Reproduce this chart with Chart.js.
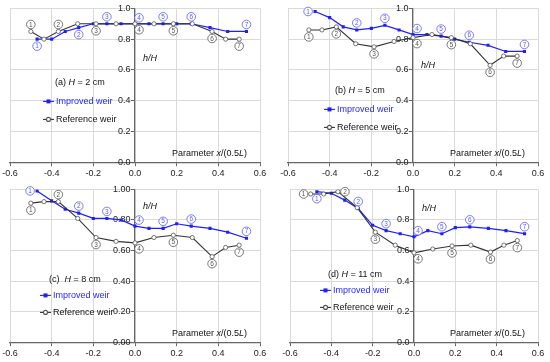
<!DOCTYPE html>
<html>
<head>
<meta charset="utf-8">
<script src="https://cdn.jsdelivr.net/npm/chart.js@4/dist/chart.umd.min.js"></script>
<style>
body { margin: 0; background: #fff; width: 550px; height: 362px; position: relative; overflow: hidden; }
.panel { position: absolute; width: 275px; height: 181px; }
</style>
</head>
<body>
<div class="panel" style="left:0;top:0"><canvas id="ChartA" width="275" height="181"></canvas></div>
<div class="panel" style="left:275px;top:0"><canvas id="ChartB" width="275" height="181"></canvas></div>
<div class="panel" style="left:0;top:181px"><canvas id="ChartC" width="275" height="181"></canvas></div>
<div class="panel" style="left:275px;top:181px"><canvas id="ChartD" width="275" height="181"></canvas></div>
<script>
// positions x/(0.5L) of the gauges
var improvedX = [-0.47, -0.40, -0.335, -0.27, -0.20, -0.135, -0.067, 0, 0.067, 0.135, 0.20, 0.27, 0.36, 0.445, 0.535];
var referenceX = [-0.50, -0.437, -0.368, -0.275, -0.187, -0.091, 0, 0.091, 0.184, 0.275, 0.37, 0.435, 0.50];

// h/H, panel (a) H = 2 cm
var improvedA = [0.80, 0.80, 0.85, 0.875, 0.90, 0.90, 0.90, 0.90, 0.90, 0.90, 0.90, 0.90, 0.875, 0.85, 0.85];
var referenceA = [0.85, 0.80, 0.85, 0.90, 0.90, 0.90, 0.90, 0.90, 0.90, 0.90, 0.85, 0.80, 0.80];
// panel (b) H = 5 cm
var improvedB = [0.98, 0.94, 0.88, 0.86, 0.87, 0.89, 0.86, 0.83, 0.83, 0.82, 0.80, 0.78, 0.76, 0.72, 0.72];
var referenceB = [0.86, 0.86, 0.88, 0.77, 0.75, 0.785, 0.81, 0.83, 0.81, 0.77, 0.63, 0.69, 0.69];
// panel (c) H = 8 cm
var improvedC = [0.99, 0.925, 0.87, 0.845, 0.81, 0.81, 0.80, 0.76, 0.745, 0.745, 0.775, 0.76, 0.745, 0.72, 0.68];
var referenceC = [0.91, 0.92, 0.92, 0.81, 0.685, 0.66, 0.65, 0.685, 0.70, 0.685, 0.56, 0.62, 0.635];
// panel (d) H = 11 cm
var improvedD = [0.985, 0.975, 0.93, 0.875, 0.765, 0.73, 0.71, 0.69, 0.73, 0.71, 0.75, 0.755, 0.745, 0.73, 0.71];
var referenceD = [0.97, 0.97, 0.985, 0.88, 0.72, 0.635, 0.585, 0.61, 0.63, 0.635, 0.59, 0.635, 0.665];

// which points carry the gauge numbers 1..7
var improvedLabelIdx = [0, 3, 5, 7, 9, 11, 14];
var referenceLabelIdx = [0, 2, 4, 6, 8, 10, 12];
var gaugeNames = ['1', '2', '3', '4', '5', '6', '7'];

var xTicks = [-0.6, -0.4, -0.2, 0, 0.2, 0.4, 0.6];
var yTicks = [0, 0.2, 0.4, 0.6, 0.8, 1.0];
var panelLetters = ['(a)', '(b)', '(c)', '(d)'];
var panelHeights = ['2 cm', '5 cm', '8 cm', '11 cm'];
var seriesNames = ['Improved weir', 'Reference weir'];

var FONT = "'Liberation Sans', Arial, sans-serif";
var BLUE = '#1f1fff';
var BLUE_LABEL = '#5b5bff';
var DARK = '#333333';

var OFFSETS = { a: [0, -7], b: [0, 7], l: [-7, 0], r: [7, 0], ar: [4, -6], br: [4, 6] };

function drawRich(ctx, parts, x, y, align) {
    var total = 0, i;
    for (i = 0; i < parts.length; i++) {
        ctx.font = (parts[i][1] ? 'italic ' : '') + '9px ' + FONT;
        total += ctx.measureText(parts[i][0]).width;
    }
    var cx = align == 'right' ? x - total : x;
    ctx.textAlign = 'left';
    ctx.textBaseline = 'middle';
    for (i = 0; i < parts.length; i++) {
        ctx.font = (parts[i][1] ? 'italic ' : '') + '9px ' + FONT;
        ctx.fillText(parts[i][0], cx, y);
        cx += ctx.measureText(parts[i][0]).width;
    }
}

function drawGauge(ctx, x, y, text, color) {
    ctx.beginPath();
    ctx.arc(x, y, 4.3, 0, Math.PI * 2);
    ctx.fillStyle = '#fff';
    ctx.fill();
    ctx.lineWidth = 0.8;
    ctx.strokeStyle = color;
    ctx.stroke();
    ctx.fillStyle = color;
    ctx.font = '6.5px ' + FONT;
    ctx.textAlign = 'center';
    ctx.textBaseline = 'middle';
    ctx.fillText(text, x, y + 0.3);
}

function legendRow(ctx, x, y, color, filled, text) {
    ctx.strokeStyle = color;
    ctx.lineWidth = 1.1;
    ctx.beginPath();
    ctx.moveTo(x, y);
    ctx.lineTo(x + 11, y);
    ctx.stroke();
    if (filled) {
        ctx.fillStyle = color;
        ctx.fillRect(x + 3.5, y - 2, 4, 4);
    } else {
        ctx.beginPath();
        ctx.arc(x + 5.5, y, 2, 0, Math.PI * 2);
        ctx.fillStyle = '#fff';
        ctx.fill();
        ctx.strokeStyle = '#555';
        ctx.stroke();
    }
    ctx.fillStyle = filled ? BLUE : '#111';
    drawRich(ctx, [[text, false]], x + 13, y, 'left');
}

function makeChart(id, n, improved, reference, cfg) {
    var notes = {
        id: 'weirNotes' + n,
        afterDatasetsDraw: function (chart) {
            var ctx = chart.ctx;
            var sx = chart.scales.x, sy = chart.scales.y;
            var area = chart.chartArea;
            var i, k, o;
            ctx.save();
            for (i = 0; i < 7; i++) {
                k = referenceLabelIdx[i];
                o = OFFSETS[cfg.refPlace[i]];
                drawGauge(ctx, sx.getPixelForValue(referenceX[k]) + o[0], sy.getPixelForValue(reference[k]) + o[1], gaugeNames[i], '#555');
            }
            for (i = 0; i < 7; i++) {
                k = improvedLabelIdx[i];
                o = OFFSETS[cfg.impPlace[i]];
                drawGauge(ctx, sx.getPixelForValue(improvedX[k]) + o[0], sy.getPixelForValue(improved[k]) + o[1], gaugeNames[i], BLUE_LABEL);
            }
            ctx.fillStyle = '#111';
            drawRich(ctx, [[panelLetters[n] + (n == 2 ? '  ' : ' '), false], ['H', true], [' = ' + panelHeights[n], false]],
                area.left + cfg.title[0], area.top + cfg.title[1], 'left');
            drawRich(ctx, [['h/H', true]], sx.getPixelForValue(0) + 8, area.top + cfg.hH, 'left');
            drawRich(ctx, [['Parameter ', false], ['x', true], ['/(0.5', false], ['L', true], [')', false]],
                area.right - 13, area.bottom - 9, 'right');
            legendRow(ctx, area.left + cfg.legend[0], area.top + cfg.legend[1], BLUE, true, seriesNames[0]);
            legendRow(ctx, area.left + cfg.legend[0], area.top + cfg.legend[2], DARK, false, seriesNames[1]);
            ctx.restore();
        }
    };

    return new Chart(document.getElementById(id), {
        type: 'scatter',
        data: {
            datasets: [
                {
                    label: seriesNames[1],
                    data: referenceX.map(function (x, i) { return { x: x, y: reference[i] }; }),
                    showLine: true,
                    borderColor: DARK,
                    borderWidth: 1.1,
                    pointStyle: 'circle',
                    pointRadius: 2.1,
                    pointBackgroundColor: '#fff',
                    pointBorderColor: '#555',
                    pointBorderWidth: 0.8
                },
                {
                    label: seriesNames[0],
                    data: improvedX.map(function (x, i) { return { x: x, y: improved[i] }; }),
                    showLine: true,
                    borderColor: BLUE,
                    borderWidth: 1.2,
                    pointStyle: 'rect',
                    pointRadius: 2.2,
                    pointBackgroundColor: BLUE,
                    pointBorderColor: BLUE,
                    pointBorderWidth: 0
                }
            ]
        },
        options: {
            responsive: false,
            animation: false,
            layout: { padding: cfg.padding },
            plugins: { legend: { display: false }, tooltip: { enabled: false } },
            scales: {
                x: {
                    type: 'linear', min: -0.6, max: 0.6, position: 'bottom',
                    afterBuildTicks: function (s) { s.ticks = xTicks.map(function (v) { return { value: v }; }); },
                    ticks: {
                        font: { family: FONT, size: 9 }, color: '#222', padding: 2, maxRotation: 0,
                        callback: function (v) { return v.toFixed(1); }
                    },
                    grid: { color: '#dadada', lineWidth: 1, tickLength: 4, tickColor: '#666' },
                    border: { color: '#666', width: 1.2 }
                },
                y: {
                    type: 'linear', min: 0, max: 1, position: { x: 0 },
                    afterBuildTicks: function (s) { s.ticks = yTicks.map(function (v) { return { value: v }; }); },
                    ticks: {
                        font: { family: FONT, size: 9 }, color: '#222', padding: 3,
                        // small gap between the label and the centre axis
                        callback: function (v) { return v.toFixed(cfg.dec) + '\u2002'; }
                    },
                    grid: { color: '#dadada', lineWidth: 1, tickLength: 3, tickColor: '#666' },
                    border: { color: '#666', width: 1.2 }
                }
            }
        },
        plugins: [notes]
    });
}

makeChart('ChartA', 0, improvedA, referenceA, {
    padding: { left: 10, right: 15, top: 6, bottom: 0 }, dec: 1,
    title: [45, 74], hH: 50, legend: [33, 93, 111],
    impPlace: ['b', 'b', 'a', 'ar', 'a', 'a', 'a'], refPlace: ['a', 'a', 'b', 'br', 'b', 'b', 'b']
});
makeChart('ChartB', 1, improvedB, referenceB, {
    padding: { left: 13, right: 12, top: 6, bottom: 0 }, dec: 1,
    title: [47, 82], hH: 57, legend: [36, 101, 119],
    impPlace: ['l', 'a', 'a', 'ar', 'a', 'a', 'a'], refPlace: ['b', 'b', 'b', 'br', 'b', 'b', 'b']
});
makeChart('ChartC', 2, improvedC, referenceC, {
    padding: { left: 10, right: 15, top: 6, bottom: 1 }, dec: 2,
    title: [39, 90], hH: 17, legend: [30, 106, 123],
    impPlace: ['l', 'a', 'a', 'ar', 'a', 'a', 'a'], refPlace: ['b', 'a', 'b', 'br', 'b', 'b', 'b']
});
makeChart('ChartD', 3, improvedD, referenceD, {
    padding: { left: 15, right: 12, top: 8, bottom: 1 }, dec: 1,
    title: [38, 85], hH: 19, legend: [30, 101, 118],
    impPlace: ['b', 'a', 'a', 'ar', 'a', 'a', 'a'], refPlace: ['l', 'r', 'b', 'br', 'b', 'b', 'b']
});
</script>
</body>
</html>
